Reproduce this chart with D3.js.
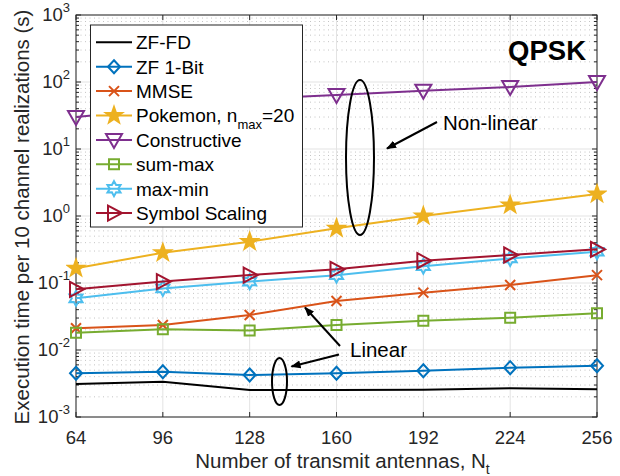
<!DOCTYPE html>
<html>
<head>
<meta charset="utf-8">
<script src="https://cdn.jsdelivr.net/npm/d3@7"></script>
<style>
  body { margin: 0; background: #fff; }
  svg { font-family: "Liberation Sans", Arial, sans-serif; }
</style>
</head>
<body>
<div id="chart"></div>
<script>
var Nt = [64, 96, 128, 160, 192, 224, 256];
var zfFD = [0.00311, 0.00337, 0.00253, 0.00253, 0.00255, 0.00268, 0.00259];
var zf1Bit = [0.00449, 0.00474, 0.00424, 0.00449, 0.00491, 0.00545, 0.00583];
var mmse = [0.0211, 0.0236, 0.0333, 0.0538, 0.0718, 0.0933, 0.131];
var pokemon = [0.166, 0.283, 0.414, 0.654, 1.0, 1.46, 2.13];
var constructive = [30, 40, 56, 64, 74, 84, 100];
var sumMax = [0.0181, 0.0204, 0.0195, 0.0236, 0.0274, 0.0303, 0.0353];
var maxMin = [0.059, 0.083, 0.105, 0.131, 0.178, 0.233, 0.293];
var symbolScaling = [0.0805, 0.105, 0.1315, 0.16, 0.215, 0.262, 0.318];
var yTickExp = [-3, -2, -1, 0, 1, 2, 3];

var series = [
  {name: 'ZF-FD', values: zfFD, color: '#000000', marker: 'none'},
  {name: 'ZF 1-Bit', values: zf1Bit, color: '#0072BD', marker: 'diamond'},
  {name: 'MMSE', values: mmse, color: '#D95319', marker: 'x'},
  {name: 'Pokemon', values: pokemon, color: '#EDB120', marker: 'pentagram'},
  {name: 'Constructive', values: constructive, color: '#7E2F8E', marker: 'tridown'},
  {name: 'sum-max', values: sumMax, color: '#77AC30', marker: 'square'},
  {name: 'max-min', values: maxMin, color: '#4DBEEE', marker: 'hexagram'},
  {name: 'Symbol Scaling', values: symbolScaling, color: '#A2142F', marker: 'triright'}
];

var width = 620, height = 476;
var pL = 76, pR = 597, pT = 15, pB = 417;

var svg = d3.select('#chart').append('svg')
  .attr('width', width)
  .attr('height', height);

var defs = svg.append('defs');
defs.append('marker')
  .attr('id', 'arrow')
  .attr('viewBox', '0 0 10 10')
  .attr('refX', 9).attr('refY', 5)
  .attr('markerWidth', 5).attr('markerHeight', 5)
  .attr('orient', 'auto')
  .append('path')
  .attr('d', 'M0,1 L10,5 L0,9 Z')
  .attr('fill', '#000');
defs.append('clipPath').attr('id', 'plotclip')
  .append('rect').attr('x', pL - 10).attr('y', pT - 10)
  .attr('width', pR - pL + 20).attr('height', pB - pT + 20);

var x = d3.scaleLinear().domain([64, 256]).range([pL, pR]);
var y = d3.scaleLog().domain([1e-3, 1e3]).range([pB, pT]);

// grid
var grid = svg.append('g');
var minorVals = [];
yTickExp.slice(0, -1).forEach(function(e){
  for (var k = 2; k <= 9; k++) minorVals.push(k * Math.pow(10, e));
});
grid.selectAll('.minor').data(minorVals).enter().append('line')
  .attr('x1', pL).attr('x2', pR)
  .attr('y1', function(d){ return y(d) }).attr('y2', function(d){ return y(d) })
  .attr('stroke', '#c4c4c4').attr('stroke-width', 1)
  .attr('stroke-dasharray', '1,3.5');
grid.selectAll('.vmaj').data(Nt).enter().append('line')
  .attr('x1', function(d){ return x(d) }).attr('x2', function(d){ return x(d) })
  .attr('y1', pT).attr('y2', pB)
  .attr('stroke', '#e3e3e3').attr('stroke-width', 1);
grid.selectAll('.hmaj').data(yTickExp).enter().append('line')
  .attr('x1', pL).attr('x2', pR)
  .attr('y1', function(d){ return y(Math.pow(10, d)) }).attr('y2', function(d){ return y(Math.pow(10, d)) })
  .attr('stroke', '#e3e3e3').attr('stroke-width', 1);

// axes box and ticks
var axisColor = '#262626';
var ax = svg.append('g').attr('stroke', axisColor).attr('stroke-width', 1);
ax.append('rect').attr('x', pL).attr('y', pT)
  .attr('width', pR - pL).attr('height', pB - pT).attr('fill', 'none');
Nt.forEach(function(d){
  ax.append('line').attr('x1', x(d)).attr('x2', x(d)).attr('y1', pB).attr('y2', pB - 5);
  ax.append('line').attr('x1', x(d)).attr('x2', x(d)).attr('y1', pT).attr('y2', pT + 5);
});
yTickExp.forEach(function(e){
  var yy = y(Math.pow(10, e));
  ax.append('line').attr('x1', pL).attr('x2', pL + 5).attr('y1', yy).attr('y2', yy);
  ax.append('line').attr('x1', pR).attr('x2', pR - 5).attr('y1', yy).attr('y2', yy);
});
minorVals.forEach(function(v){
  var yy = y(v);
  ax.append('line').attr('x1', pL).attr('x2', pL + 3).attr('y1', yy).attr('y2', yy);
  ax.append('line').attr('x1', pR).attr('x2', pR - 3).attr('y1', yy).attr('y2', yy);
});

// tick labels
svg.selectAll('.xt').data(Nt).enter().append('text')
  .attr('x', function(d){ return x(d) }).attr('y', 444)
  .attr('text-anchor', 'middle').attr('font-size', 18.5).attr('fill', axisColor)
  .text(function(d){ return d });
var yl = svg.selectAll('.yt').data(yTickExp).enter().append('text')
  .attr('x', 70).attr('y', function(d){ return y(Math.pow(10, d)) + 6 })
  .attr('text-anchor', 'end').attr('font-size', 18.5).attr('fill', axisColor);
yl.append('tspan').text('10');
yl.append('tspan').attr('dy', -9).attr('font-size', 13).text(function(d){ return d });

// axis titles
var xt = svg.append('text').attr('x', (pL + pR) / 2 + 6).attr('y', 468)
  .attr('text-anchor', 'middle').attr('font-size', 20.5).attr('fill', axisColor);
xt.append('tspan').text('Number of transmit antennas, N');
xt.append('tspan').attr('dy', 6).attr('font-size', 14).text('t');
svg.append('text')
  .attr('transform', 'translate(29,' + ((pT + pB) / 2 + 1) + ') rotate(-90)')
  .attr('text-anchor', 'middle').attr('font-size', 20.5).attr('fill', axisColor)
  .text('Execution time per 10 channel realizations (s)');

// marker shapes
function markerPath(type) {
  switch (type) {
    case 'diamond': return 'M0,-6.5L6,0L0,6.5L-6,0Z';
    case 'x': return 'M-5,-5L5,5M-5,5L5,-5';
    case 'square': return 'M-5,-5H5V5H-5Z';
    case 'tridown': return 'M-8,-6H8L0,8Z';
    case 'triright': return 'M-6,-7.5L8,0L-6,7.5Z';
    case 'pentagram': return starPath(5, 8.5, 3.4);
    case 'hexagram': return starPath(6, 7.5, 4.2);
  }
  return null;
}
function starPath(n, ro, ri) {
  var pts = [];
  for (var i = 0; i < 2 * n; i++) {
    var a = -Math.PI / 2 + i * Math.PI / n;
    var r = i % 2 ? ri : ro;
    pts.push([r * Math.cos(a), r * Math.sin(a)]);
  }
  return 'M' + pts.map(function(p){ return p[0].toFixed(2) + ',' + p[1].toFixed(2) }).join('L') + 'Z';
}
function drawMarker(g, s, cx, cy) {
  var p = markerPath(s.marker);
  if (!p) return;
  g.append('path').attr('d', p)
    .attr('transform', 'translate(' + cx + ',' + cy + ')')
    .attr('fill', s.marker == 'pentagram' ? s.color : 'none')
    .attr('stroke', s.color).attr('stroke-width', 2)
    .attr('stroke-linejoin', 'miter');
}

// series
var plot = svg.append('g').attr('clip-path', 'url(#plotclip)');
var line = d3.line()
  .x(function(d, i){ return x(Nt[i]) })
  .y(function(d){ return y(d) });
series.forEach(function(s){
  var g = plot.append('g');
  g.append('path').datum(s.values)
    .attr('d', line)
    .attr('fill', 'none').attr('stroke', s.color).attr('stroke-width', 2);
  s.values.forEach(function(v, i){ drawMarker(g, s, x(Nt[i]), y(v)) });
});

// annotations
var ann = svg.append('g').attr('stroke', '#000').attr('fill', 'none');
ann.append('ellipse').attr('cx', 360).attr('cy', 157.5).attr('rx', 14).attr('ry', 77.5).attr('stroke-width', 2);
ann.append('ellipse').attr('cx', 279.5).attr('cy', 381.5).attr('rx', 7.5).attr('ry', 23.5).attr('stroke-width', 2);
ann.append('line').attr('x1', 437).attr('y1', 122).attr('x2', 387).attr('y2', 148.5)
  .attr('stroke-width', 2).attr('marker-end', 'url(#arrow)');
ann.append('line').attr('x1', 340).attr('y1', 346).attr('x2', 305).attr('y2', 307.5)
  .attr('stroke-width', 2).attr('marker-end', 'url(#arrow)');
ann.append('line').attr('x1', 339).attr('y1', 354.5).attr('x2', 291.5).attr('y2', 366.5)
  .attr('stroke-width', 2).attr('marker-end', 'url(#arrow)');
svg.append('text').attr('x', 443).attr('y', 129.5).attr('font-size', 20.5).text('Non-linear');
svg.append('text').attr('x', 350).attr('y', 357).attr('font-size', 20.5).text('Linear');
svg.append('text').attr('x', 586).attr('y', 60).attr('text-anchor', 'end')
  .attr('font-size', 27.5).attr('font-weight', 'bold').text('QPSK');

// legend
var lg = svg.append('g');
lg.append('rect').attr('x', 90.5).attr('y', 25).attr('width', 212).attr('height', 202)
  .attr('fill', '#fff').attr('stroke', axisColor).attr('stroke-width', 1);
series.forEach(function(s, i){
  var cy = 42.3 + i * 24.4;
  lg.append('line').attr('x1', 96).attr('x2', 132).attr('y1', cy).attr('y2', cy)
    .attr('stroke', s.color).attr('stroke-width', 2);
  drawMarker(lg, s, 114, cy);
  var t = lg.append('text').attr('x', 136).attr('y', cy + 6.8).attr('font-size', 19).attr('fill', '#000');
  if (s.name == 'Pokemon') {
    t.append('tspan').text('Pokemon, n');
    t.append('tspan').attr('dy', 7).attr('font-size', 13).text('max');
    t.append('tspan').attr('dy', -7).text('=20');
  } else {
    t.text(s.name);
  }
});
</script>
</body>
</html>
